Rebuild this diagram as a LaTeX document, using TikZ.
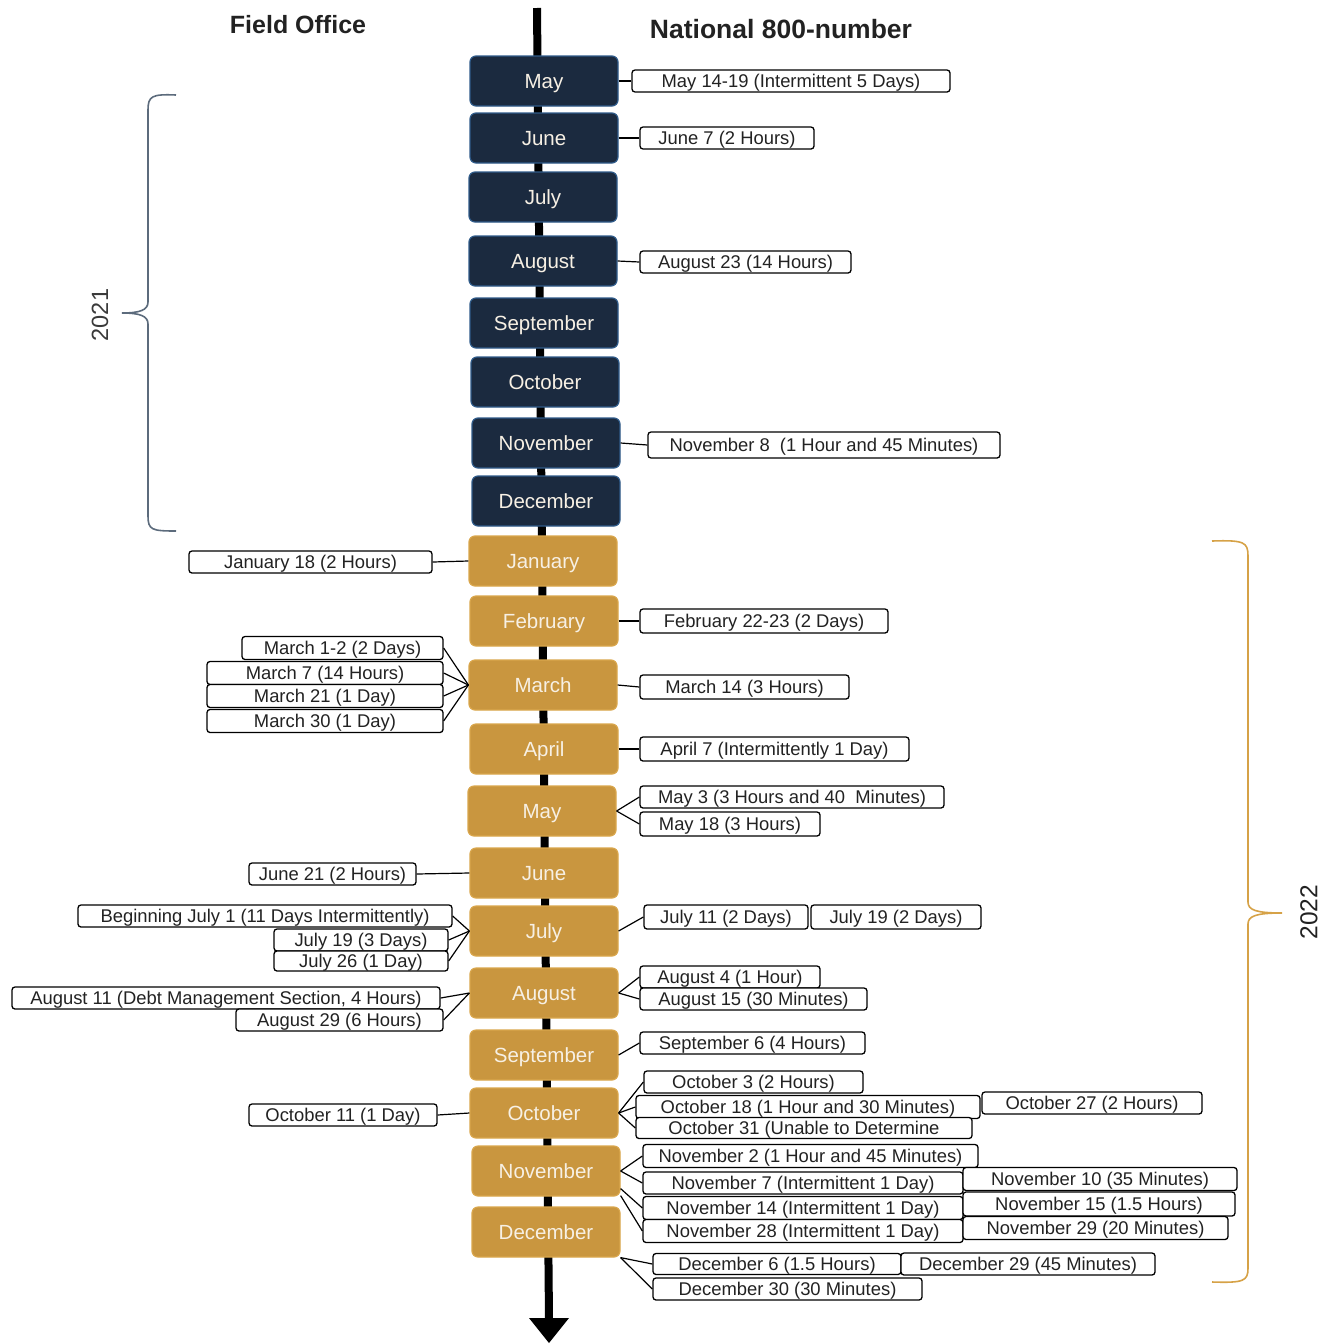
\documentclass[tikz,border=0pt]{standalone}
\usepackage{fontspec}
\setmainfont{Liberation Sans}
\definecolor{navy}{HTML}{1B2A3F}
\definecolor{navyedge}{HTML}{2F5B8A}
\definecolor{gold}{HTML}{C9963F}
\definecolor{goldedge}{HTML}{D9A64C}
\definecolor{boxtext}{HTML}{F7F0E4}
\definecolor{lbltext}{HTML}{222222}
\definecolor{yeartext}{HTML}{3A3A3A}
\definecolor{brace21}{HTML}{5C6B7C}
\definecolor{brace22}{HTML}{D6A247}
\begin{document}
\begin{tikzpicture}[x=1pt,y=-1pt,
  mbox/.style={rounded corners=6pt, minimum width=148pt, minimum height=50pt, inner sep=0pt,
    text height=14.5pt, text depth=0pt,
    text=boxtext, font=\fontsize{20.5}{20.5}\selectfont, line width=1.2pt},
  yr21/.style={mbox, fill=navy, draw=navyedge},
  yr22/.style={mbox, fill=gold, draw=goldedge},
  lbl/.style={draw=black, fill=white, rounded corners=3pt, line width=1.3pt, inner sep=0pt,
    text height=13pt, text depth=0pt,
    minimum height=22pt, text=lbltext, font=\fontsize{18.4}{18.4}\selectfont},
  conn/.style={draw=black, line width=1.2pt},
  hdr/.style={font=\bfseries, text=lbltext, inner sep=0pt}
]
\useasboundingbox (0,0) rectangle (1335,1344);

% axis
\coordinate (axtop) at (537,8);
\coordinate (axbot) at (549,1320);
\coordinate (axtip) at (549,1343);
\draw[line width=8pt] (axtop) -- (axbot);
\fill (529,1318) -- (569,1318) -- (axtip) -- cycle;

% headers
\node[hdr, font=\bfseries\fontsize{25}{25}\selectfont] (hfo) at (298,25) {Field Office};
\node[hdr, font=\bfseries\fontsize{26.5}{26.5}\selectfont] (hnat) at (781,29) {National 800-number};

% 2021 months
\node[yr21] (a5) at (544,81) {May};
\node[yr21] (a6) at (544,138) {June};
\node[yr21] (a7) at (543,197) {July};
\node[yr21] (a8) at (543,261) {August};
\node[yr21] (a9) at (544,323) {September};
\node[yr21] (a10) at (545,382) {October};
\node[yr21] (a11) at (546,443) {November};
\node[yr21] (a12) at (546,501) {December};

% 2022 months
\node[yr22] (b1) at (543,561) {January};
\node[yr22] (b2) at (544,621) {February};
\node[yr22] (b3) at (543,685) {March};
\node[yr22] (b4) at (544,749) {April};
\node[yr22] (b5) at (542,811) {May};
\node[yr22] (b6) at (544,873) {June};
\node[yr22] (b7) at (544,931) {July};
\node[yr22] (b8) at (544,993) {August};
\node[yr22] (b9) at (544,1055) {September};
\node[yr22] (b10) at (544,1113) {October};
\node[yr22] (b11) at (546,1171) {November};
\node[yr22] (b12) at (546,1232) {December};

% labels 2021
\node[lbl, minimum width=318pt] (r1) at (791,81) {May 14-19 (Intermittent 5 Days)};
\node[lbl, minimum width=174pt] (r2) at (727,138) {June 7 (2 Hours)};
\node[lbl, minimum width=211pt] (r3) at (745.5,262) {August 23 (14 Hours)};
\node[lbl, minimum width=352pt, minimum height=26pt] (r4) at (824,445) {November 8\ \ (1 Hour and 45 Minutes)};

% labels 2022
\node[lbl, minimum width=243pt] (lj) at (310.5,562) {January 18 (2 Hours)};
\node[lbl, minimum width=248pt, minimum height=24pt] (rf) at (764,621) {February 22-23 (2 Days)};

\node[lbl, minimum width=201pt, minimum height=23pt] (lm1) at (342.5,648) {March 1-2 (2 Days)};
\node[lbl, minimum width=236pt, minimum height=23pt] (lm2) at (325,673) {March 7 (14 Hours)};
\node[lbl, minimum width=236pt, minimum height=23pt] (lm3) at (325,696) {March 21 (1 Day)};
\node[lbl, minimum width=236pt, minimum height=23pt] (lm4) at (325,721) {March 30 (1 Day)};
\node[lbl, minimum width=209pt, minimum height=24pt] (rm) at (744.5,687) {March 14 (3 Hours)};

\node[lbl, minimum width=269pt, minimum height=24pt] (ra) at (774.5,749) {April 7 (Intermittently 1 Day)};

\node[lbl, minimum width=304pt] (ry1) at (792,797) {May 3 (3 Hours and 40\ \ Minutes)};
\node[lbl, minimum width=180pt, minimum height=24pt] (ry2) at (730,824) {May 18 (3 Hours)};

\node[lbl, minimum width=167pt] (lju) at (332.5,874) {June 21 (2 Hours)};

\node[lbl, minimum width=374pt] (ljl1) at (265,916) {Beginning July 1 (11 Days Intermittently)};
\node[lbl, minimum width=174pt] (ljl2) at (361,940) {July 19 (3 Days)};
\node[lbl, minimum width=174pt, minimum height=20pt] (ljl3) at (361,961) {July 26 (1 Day)};
\node[lbl, minimum width=164pt, minimum height=24pt] (rjl1) at (726,917) {July 11 (2 Days)};
\node[lbl, minimum width=170pt, minimum height=24pt] (rjl2) at (896,917) {July 19 (2 Days)};

\node[lbl, minimum width=428pt] (lag1) at (226,998) {August 11 (Debt Management Section, 4 Hours)};
\node[lbl, minimum width=207pt] (lag2) at (339.5,1020) {August 29 (6 Hours)};
\node[lbl, minimum width=180pt] (rag1) at (730,977) {August 4 (1 Hour)};
\node[lbl, minimum width=227pt] (rag2) at (753.5,999) {August 15 (30 Minutes)};

\node[lbl, minimum width=225pt] (rs) at (752.5,1043) {September 6 (4 Hours)};

\node[lbl, minimum width=188pt] (lo) at (343,1115) {October 11 (1 Day)};
\node[lbl, minimum width=219pt] (ro3) at (753.5,1082) {October 3 (2 Hours)};
\node[lbl, minimum width=344pt, minimum height=23pt] (ro18) at (808,1107) {October 18 (1 Hour and 30 Minutes)};
\node[lbl, minimum width=220pt] (ro27) at (1092,1103) {October 27 (2 Hours)};
\node[lbl, minimum width=336pt, minimum height=21pt] (ro31) at (804,1128) {October 31 (Unable to Determine};

\node[lbl, minimum width=335pt, minimum height=23pt] (rn2) at (810.5,1156) {November 2 (1 Hour and 45 Minutes)};
\node[lbl, minimum width=320pt] (rn7) at (803,1183) {November 7 (Intermittent 1 Day)};
\node[lbl, minimum width=274pt, minimum height=23pt] (rn10) at (1100,1179) {November 10 (35 Minutes)};
\node[lbl, minimum width=320pt, minimum height=23pt] (rn14) at (803,1208) {November 14 (Intermittent 1 Day)};
\node[lbl, minimum width=272pt, minimum height=24pt] (rn15) at (1099,1204) {November 15 (1.5 Hours)};
\node[lbl, minimum width=320pt, minimum height=23pt] (rn28) at (803,1231) {November 28 (Intermittent 1 Day)};
\node[lbl, minimum width=265pt, minimum height=23pt] (rn29) at (1095.5,1228) {November 29 (20 Minutes)};

\node[lbl, minimum width=248pt, minimum height=21pt] (rd6) at (777,1264) {December 6 (1.5 Hours)};
\node[lbl, minimum width=254pt, minimum height=22pt] (rd29) at (1028,1264) {December 29 (45 Minutes)};
\node[lbl, minimum width=269pt, minimum height=22pt] (rd30) at (787.5,1289) {December 30 (30 Minutes)};

% connectors
\draw[conn] (a5.east) -- (r1.west);
\draw[conn] (a6.east) -- (r2.west);
\draw[conn] (a8.east) -- (r3.west);
\draw[conn] (a11.east) -- (r4.west);
\draw[conn] (lj.east) -- (b1.west);
\draw[conn] (b2.east) -- (rf.west);
\draw[conn] (lm1.east) -- (b3.west);
\draw[conn] (lm2.east) -- (b3.west);
\draw[conn] (lm3.east) -- (b3.west);
\draw[conn] (lm4.east) -- (b3.west);
\draw[conn] (b3.east) -- (rm.west);
\draw[conn] (b4.east) -- (ra.west);
\draw[conn] (b5.east) -- (ry1.west);
\draw[conn] (b5.east) -- (ry2.west);
\draw[conn] (lju.east) -- (b6.west);
\draw[conn] (ljl1.east) -- (b7.west);
\draw[conn] (ljl2.east) -- (b7.west);
\draw[conn] (ljl3.east) -- (b7.west);
\draw[conn] (b7.east) -- (rjl1.west);
\draw[conn] (lag1.east) -- (b8.west);
\draw[conn] (lag2.east) -- (b8.west);
\draw[conn] (b8.east) -- (rag1.west);
\draw[conn] (b8.east) -- (rag2.west);
\draw[conn] (b9.east) -- (rs.west);
\draw[conn] (lo.east) -- (b10.west);
\draw[conn] (b10.east) -- (ro3.west);
\draw[conn] (b10.east) -- (ro18.west);
\draw[conn] (b10.east) -- (ro31.west);
\draw[conn] (b11.east) -- (rn2.west);
\draw[conn] (b11.east) -- (rn7.west);
\draw[conn] ([yshift=8pt]b11.south east) -- (rn14.west);
\draw[conn] ([yshift=1pt]b11.south east) -- (rn28.west);
\draw[conn] (b12.south east) -- (rd6.west);
\draw[conn] (b12.south east) -- (rd30.west);

% braces
\draw[brace21, line width=1.6pt] (176,95) .. controls (152,94) and (148,96) .. (148,110)
  -- (148,302) .. controls (148,310) and (140,313) .. (122,313)
  .. controls (140,313) and (148,316) .. (148,324)
  -- (148,516) .. controls (148,530) and (152,531) .. (176,531);
\node[text=yeartext, rotate=90, font=\fontsize{23.5}{23.5}\selectfont, inner sep=0pt] (y21) at (100,315) {2021};

\draw[brace22, line width=1.6pt] (1212,541) .. controls (1244,540) and (1248,542) .. (1248,556)
  -- (1248,902) .. controls (1248,910) and (1256,913) .. (1282,913)
  .. controls (1256,913) and (1248,916) .. (1248,924)
  -- (1248,1268) .. controls (1248,1281) and (1244,1283) .. (1212,1282);
\node[text=lbltext, rotate=90, font=\fontsize{24.5}{24.5}\selectfont, inner sep=0pt] (y22) at (1309,912) {2022};
\end{tikzpicture}
\end{document}
